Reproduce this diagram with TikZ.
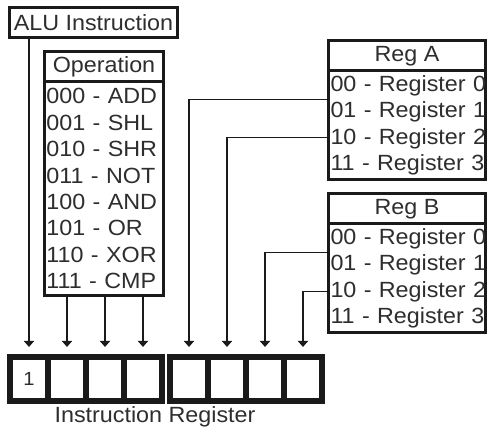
\documentclass[tikz,border=0pt]{standalone}
\usepackage{fontspec}
\setmainfont[FakeStretch=1.06]{Liberation Sans}
\usetikzlibrary{arrows.meta,positioning}
\definecolor{ink}{HTML}{1A1A1A}
\definecolor{textgray}{HTML}{2E2E2E}
\newcommand{\labelfont}{\fontsize{11pt}{13.2pt}\selectfont}
\tikzset{
  titlebox/.style={
    draw=ink, fill=white, line width=1.5pt,
    inner sep=0pt, outer sep=0pt,
    align=center, font=\labelfont, text=textgray
  },
  listbox/.style={
    draw=ink, fill=white, line width=1.5pt,
    inner xsep=1pt, inner ysep=0pt, outer sep=0pt,
    align=left, font=\labelfont, text=textgray
  },
  regcell/.style={
    draw=ink, fill=white, line width=3pt, inner sep=0pt,
    minimum width=19pt, minimum height=22pt,
    font=\fontsize{9.5pt}{11pt}\selectfont, text=textgray
  },
  feed/.style={draw=ink, line width=0.9pt, -{Triangle[length=3pt,width=5pt]}, shorten >=3.5pt}
}

\begin{document}
\begin{tikzpicture}[x=0.5pt,y=-0.5pt]
  \useasboundingbox (0,0) rectangle (488,427);

  % boxes
  \node[titlebox,minimum width=84pt,minimum height=15pt] (alu) at (93.5,22.5) {ALU Instruction};

  \node[titlebox,minimum width=59.5pt,minimum height=15.25pt] (ophead) at (104,66.75) {Operation};
  \node[listbox,text width=57.5pt,minimum height=106.75pt,below=0pt of ophead] (opbody) {%
    000 - ADD\\ 001 - SHL\\ 010 - SHR\\ 011 - NOT\\
    100 - AND\\ 101 - OR\\ 110 - XOR\\ 111 - CMP};

  \node[titlebox,minimum width=78.5pt,minimum height=15pt] (regahead) at (407,56) {Reg A};
  \node[listbox,text width=76.5pt,minimum height=54.5pt,below=0pt of regahead] (regabody) {%
    \mbox{00 - Register 0}\\ \mbox{01 - Register 1}\\ \mbox{10 - Register 2}\\ \mbox{11 - Register 3}};

  \node[titlebox,minimum width=78.5pt,minimum height=15pt] (regbhead) at (407,209) {Reg B};
  \node[listbox,text width=76.5pt,minimum height=54.5pt,below=0pt of regbhead] (regbbody) {%
    \mbox{00 - Register 0}\\ \mbox{01 - Register 1}\\ \mbox{10 - Register 2}\\ \mbox{11 - Register 3}};

  % instruction register
  \node[regcell] (c1) at (29,379) {1};
  \node[regcell] (c2) at (67,379) {};
  \node[regcell] (c3) at (105,379) {};
  \node[regcell] (c4) at (143,379) {};
  \node[regcell] (c5) at (189,379) {};
  \node[regcell] (c6) at (227,379) {};
  \node[regcell] (c7) at (265,379) {};
  \node[regcell] (c8) at (303,379) {};
  \node[font=\labelfont,text=textgray,anchor=base] (irlabel) at (155,423) {Instruction Register};

  % connectors
  \draw[feed] (alu.south -| c1.north) -- (c1.north);
  \draw[feed] (opbody.south -| c2.north) -- (c2.north);
  \draw[feed] (opbody.south -| c3.north) -- (c3.north);
  \draw[feed] (opbody.south -| c4.north) -- (c4.north);
  \draw[feed] ([yshift=13pt]regabody.west) -| (c5.north);
  \draw[feed] ([yshift=-6pt]regabody.west) -| (c6.north);
  \draw[feed] ([yshift=13pt]regbbody.west) -| (c7.north);
  \draw[feed] ([yshift=-6.5pt]regbbody.west) -| (c8.north);
\end{tikzpicture}
\end{document}
